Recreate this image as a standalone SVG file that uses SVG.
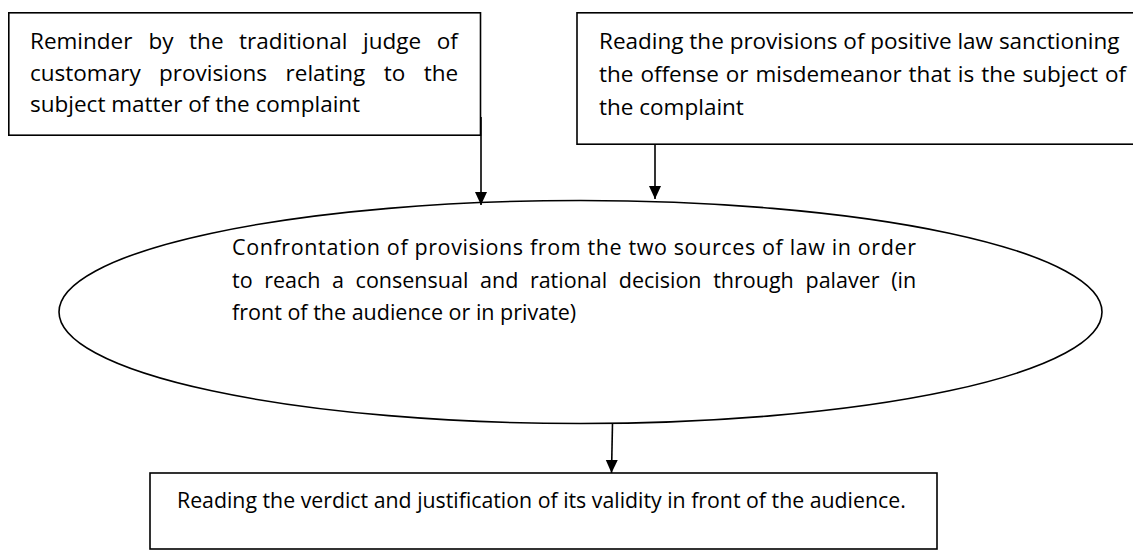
<svg xmlns="http://www.w3.org/2000/svg" width="1133" height="557" viewBox="0 0 1133 557">
<style>
.box{fill:#fff;stroke:#000;stroke-width:1.6}
.t{font-family:"Open Sans","Noto Sans","Liberation Sans",sans-serif;fill:#000}
.b{font-size:22.5px}
.e{font-size:21.5px}
.v{font-size:21.3px}
.c{stroke:#000;stroke-width:1.6;fill:none;marker-end:url(#ah)}
</style>
<defs>
<marker id="ah" markerUnits="userSpaceOnUse" markerWidth="14" markerHeight="14" viewBox="0 0 14 14" refX="13" refY="7" orient="auto">
<path d="M0,1 L13,7 L0,13 Z" fill="#000"/>
</marker>
</defs>
<rect width="1133" height="557" fill="#fff"/>
<g id="node-reminder">
<rect class="box" x="8.8" y="12.8" width="471.7" height="122.4"/>
<text class="t b" y="49"><tspan x="30">Reminder</tspan><tspan x="148.4">by</tspan><tspan x="189.1">the</tspan><tspan x="239">traditional</tspan><tspan x="363">judge</tspan><tspan x="436.8">of</tspan></text>
<text class="t b" y="81"><tspan x="30">customary</tspan><tspan x="159.1">provisions</tspan><tspan x="285.6">relating</tspan><tspan x="383.8">to</tspan><tspan x="423.7">the</tspan></text>
<text class="t b" x="30" y="112">subject matter of the complaint</text>
</g>
<g id="node-reading">
<rect class="box" x="577" y="12.8" width="570" height="131.4"/>
<text class="t b" x="599" y="49">Reading the provisions of positive law sanctioning</text>
<text class="t b" x="599" y="82" word-spacing="1.1">the offense or misdemeanor that is the subject of</text>
<text class="t b" x="599" y="115">the complaint</text>
</g>
<g id="node-confrontation">
<ellipse class="box" cx="580.5" cy="312" rx="521.5" ry="111.5"/>
<text class="t e" x="232" y="255" textLength="684" lengthAdjust="spacing">Confrontation of provisions from the two sources of law in order</text>
<text class="t e" y="288"><tspan x="232">to</tspan><tspan x="264.2">reach</tspan><tspan x="332">a</tspan><tspan x="355.6">consensual</tspan><tspan x="480">and</tspan><tspan x="529.9">rational</tspan><tspan x="618.8">decision</tspan><tspan x="713.2">through</tspan><tspan x="805.5">palaver</tspan><tspan x="891.2">(in</tspan></text>
<text class="t e" x="232" y="320">front of the audience or in private)</text>
</g>
<g id="node-verdict">
<rect class="box" x="150" y="473" width="787" height="76"/>
<text class="t v" x="177" y="508">Reading the verdict and justification of its validity in front of the audience.</text>
</g>
<g id="connectors">
<line class="c" x1="481" y1="117" x2="481" y2="205"/>
<line class="c" x1="655" y1="144" x2="655" y2="199"/>
<line class="c" x1="612.5" y1="423" x2="611.5" y2="473"/>
</g>
</svg>
